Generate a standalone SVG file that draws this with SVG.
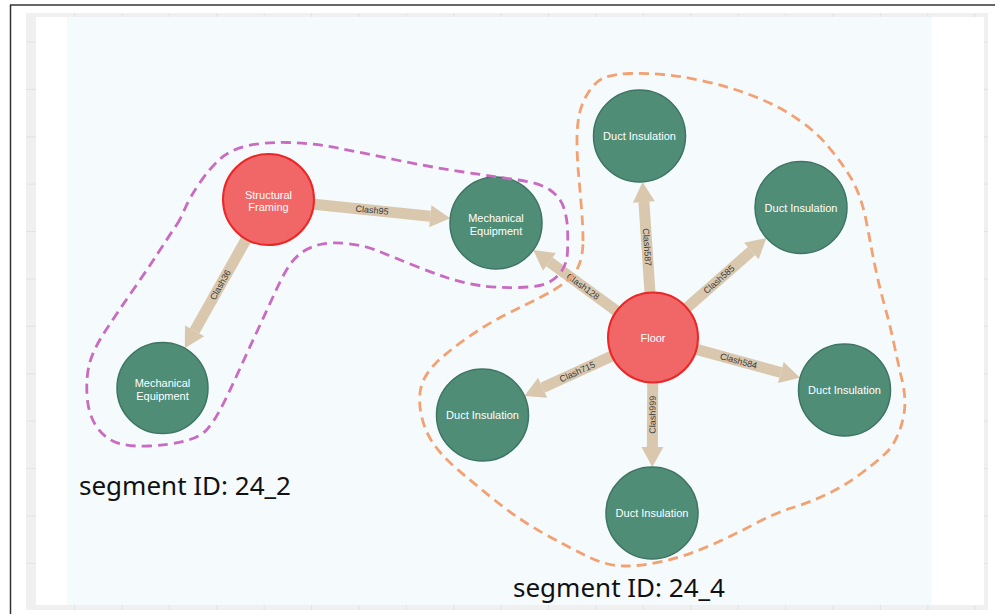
<svg xmlns="http://www.w3.org/2000/svg" width="996" height="614" viewBox="0 0 996 614">
<style>
.red{fill:#F16667;stroke:#EB2728;stroke-width:2}
.grn{fill:#4f8d77;stroke:#3e7462;stroke-width:1.5}
.cap{font-family:"Liberation Sans",Arial,sans-serif;font-size:11px;fill:#ffffff;text-anchor:middle}
.shaft{stroke:#D9C8AE;stroke-width:11;fill:none;marker-end:url(#ah)}
.el{font-family:"Liberation Sans",Arial,sans-serif;font-size:9px;fill:#3a3a3a;text-anchor:middle}
.hull{fill:none;stroke-width:2.8;stroke-dasharray:10 6}
.seg{font-family:"Noto Sans","Open Sans",sans-serif;font-size:26px;fill:#111111}
.grid{stroke:#e2e2e2;stroke-width:1}
</style>
<defs>
<marker id="ah" markerUnits="userSpaceOnUse" markerWidth="20" markerHeight="22" refX="0" refY="11" orient="auto" overflow="visible">
<path d="M0,0 L20,11 L0,22 Z" fill="#D9C8AE"/>
</marker>
</defs>
<g id="background">
<rect x="0" y="0" width="996" height="614" fill="#ffffff"/>
<rect x="26" y="13" width="962" height="597" fill="#f0f0f0"/>
<g class="grid">
<line x1="74.6" y1="13" x2="74.6" y2="610"/><line x1="122" y1="13" x2="122" y2="610"/><line x1="169.4" y1="13" x2="169.4" y2="610"/><line x1="216.8" y1="13" x2="216.8" y2="610"/><line x1="264.2" y1="13" x2="264.2" y2="610"/><line x1="311.6" y1="13" x2="311.6" y2="610"/><line x1="359" y1="13" x2="359" y2="610"/><line x1="406.4" y1="13" x2="406.4" y2="610"/><line x1="453.8" y1="13" x2="453.8" y2="610"/><line x1="501.2" y1="13" x2="501.2" y2="610"/><line x1="548.6" y1="13" x2="548.6" y2="610"/><line x1="596" y1="13" x2="596" y2="610"/><line x1="643.4" y1="13" x2="643.4" y2="610"/><line x1="690.8" y1="13" x2="690.8" y2="610"/><line x1="738.2" y1="13" x2="738.2" y2="610"/><line x1="785.6" y1="13" x2="785.6" y2="610"/><line x1="833" y1="13" x2="833" y2="610"/><line x1="880.4" y1="13" x2="880.4" y2="610"/><line x1="927.8" y1="13" x2="927.8" y2="610"/><line x1="975.2" y1="13" x2="975.2" y2="610"/>
<line x1="26" y1="42" x2="988" y2="42"/><line x1="26" y1="89.4" x2="988" y2="89.4"/><line x1="26" y1="136.8" x2="988" y2="136.8"/><line x1="26" y1="184.2" x2="988" y2="184.2"/><line x1="26" y1="231.6" x2="988" y2="231.6"/><line x1="26" y1="279" x2="988" y2="279"/><line x1="26" y1="326.4" x2="988" y2="326.4"/><line x1="26" y1="373.8" x2="988" y2="373.8"/><line x1="26" y1="421.2" x2="988" y2="421.2"/><line x1="26" y1="468.6" x2="988" y2="468.6"/><line x1="26" y1="516" x2="988" y2="516"/><line x1="26" y1="563.4" x2="988" y2="563.4"/>
</g>
<rect x="36" y="17" width="948" height="588" fill="#ffffff"/>
<rect x="67" y="17" width="865" height="588" fill="#f5fafd"/>
<line x1="10" y1="5" x2="995" y2="5" stroke="#333333" stroke-width="1.5"/>
<line x1="10.5" y1="5" x2="10.5" y2="614" stroke="#333333" stroke-width="1.5"/>
</g>
<g id="connectors">
<line class="shaft" x1="313.8" y1="204.2" x2="430.3" y2="216.3"/>
<text class="el" transform="translate(372,210.2) rotate(5.9)" y="3">Clash95</text>
<line class="shaft" x1="246.2" y1="239.2" x2="194.6" y2="330.9"/>
<text class="el" transform="translate(220.4,285) rotate(-60.6)" y="3">Clash36</text>
<line class="shaft" x1="616.6" y1="311" x2="549.4" y2="261.9"/>
<text class="el" transform="translate(583,286.5) rotate(36.1)" y="3">Clash128</text>
<line class="shaft" x1="650" y1="292.6" x2="643.9" y2="201.9"/>
<text class="el" transform="translate(647,247.2) rotate(86.2)" y="3">Clash587</text>
<line class="shaft" x1="686.8" y1="307.8" x2="751.4" y2="251.1"/>
<text class="el" transform="translate(719.1,279.5) rotate(-41.3)" y="3">Clash585</text>
<line class="shaft" x1="696.4" y1="349.4" x2="780.8" y2="372.5"/>
<text class="el" transform="translate(738.6,361) rotate(15.3)" y="3">Clash584</text>
<line class="shaft" x1="612" y1="356.1" x2="542.6" y2="387.7"/>
<text class="el" transform="translate(577.3,371.9) rotate(-24.4)" y="3">Clash715</text>
<line class="shaft" x1="652.7" y1="382.5" x2="652.4" y2="447"/>
<text class="el" transform="translate(652.6,414.8) rotate(-89.7)" y="3">Clash999</text>
</g>
<g id="n-structural-framing">
<circle class="red" cx="268.5" cy="199.5" r="45.5"/>
<text class="cap" x="268.5" y="198.5">Structural</text>
<text class="cap" x="268.5" y="211">Framing</text>
</g>
<g id="n-mech-equip-1">
<circle class="grn" cx="496" cy="223" r="46"/>
<text class="cap" x="496" y="222">Mechanical</text>
<text class="cap" x="496" y="234.5">Equipment</text>
</g>
<g id="n-mech-equip-2">
<circle class="grn" cx="162.5" cy="388" r="45.5"/>
<text class="cap" x="162.5" y="387">Mechanical</text>
<text class="cap" x="162.5" y="399.5">Equipment</text>
</g>
<g id="n-floor">
<circle class="red" cx="653" cy="337.5" r="45"/>
<text class="cap" x="653" y="341.5">Floor</text>
</g>
<g id="n-duct-top">
<circle class="grn" cx="639.5" cy="136" r="46"/>
<text class="cap" x="639.5" y="140">Duct Insulation</text>
</g>
<g id="n-duct-upper-right">
<circle class="grn" cx="801" cy="207.5" r="46"/>
<text class="cap" x="801" y="212">Duct Insulation</text>
</g>
<g id="n-duct-right">
<circle class="grn" cx="844.5" cy="390" r="46"/>
<text class="cap" x="844.5" y="394">Duct Insulation</text>
</g>
<g id="n-duct-left">
<circle class="grn" cx="482.5" cy="415" r="46"/>
<text class="cap" x="482.5" y="419">Duct Insulation</text>
</g>
<g id="n-duct-bottom">
<circle class="grn" cx="652" cy="513" r="46"/>
<text class="cap" x="652" y="517">Duct Insulation</text>
</g>
<g id="segment-24_2">
<path class="hull" stroke="#c96bc0" d="M176.5,225 Q180,220 185,208.5 Q190,197 200,182.5 Q210,168 220,159 Q230,150 246.5,146 Q263,142 288,142.5 Q313,143 338,148 Q363,153 396.5,160 Q430,167 463.5,172 Q497,177 518.5,180 Q540,183 550,190 Q560,197 563.5,207 Q567,217 567.5,228.5 Q568,240 567.5,251.5 Q567,263 562,270.5 Q557,278 548.5,282.5 Q540,287 518.5,287.5 Q497,288 480,285.5 Q463,283 446.5,277.5 Q430,272 411.5,264.5 Q393,257 378,251 Q363,245 346.5,243.5 Q330,242 320,244.5 Q310,247 302.5,252 Q295,257 289,266 Q283,275 275,292.5 Q267,310 257,331.5 Q247,353 237,375 Q227,397 220,410 Q213,423 206.5,430 Q200,437 185,441 Q170,445 148.5,446 Q127,447 115,442 Q103,437 95.5,425 Q88,413 87,395 Q86,377 89.5,363.5 Q93,350 105,331.5 Q117,313 132,291.5 Q147,270 160,250 Q173,230 176.5,225 Z"/>
<text class="seg" x="79" y="495">segment ID: 24_2</text>
</g>
<g id="segment-24_4">
<path class="hull" stroke="#f4a172" d="M583,241 Q583,227 581.5,208.5 Q580,190 578.5,173.5 Q577,157 577,140 Q577,123 580,111.5 Q583,100 590,90 Q597,80 606,77 Q615,74 630,73.5 Q645,73 662.5,74.5 Q680,76 699,80 Q718,84 735,89.5 Q752,95 768.5,102.5 Q785,110 801,121.5 Q817,133 827,145 Q837,157 845,168.5 Q853,180 858,192.5 Q863,205 866,220 Q869,235 871.5,248.5 Q874,262 877.5,277.5 Q881,293 885.5,309 Q890,325 894,344 Q898,363 902,380 Q906,397 904.5,410 Q903,423 898,434.5 Q893,446 886.5,452.5 Q880,459 863,472 Q846,485 828.5,493.5 Q811,502 793,507.5 Q775,513 753.5,524.5 Q732,536 709,546 Q686,556 664.5,561 Q643,566 625,566 Q607,566 587.5,556.5 Q568,547 543,533 Q518,519 494.5,500 Q471,481 457,469 Q443,457 434,444.5 Q425,432 421.5,416 Q418,400 421,387.5 Q424,375 435.5,363.5 Q447,352 467,338 Q487,324 506,314.5 Q525,305 540,297.5 Q555,290 565,282.5 Q575,275 579,265 Q583,255 583,241 Z"/>
<text class="seg" x="513" y="597">segment ID: 24_4</text>
</g>
</svg>
